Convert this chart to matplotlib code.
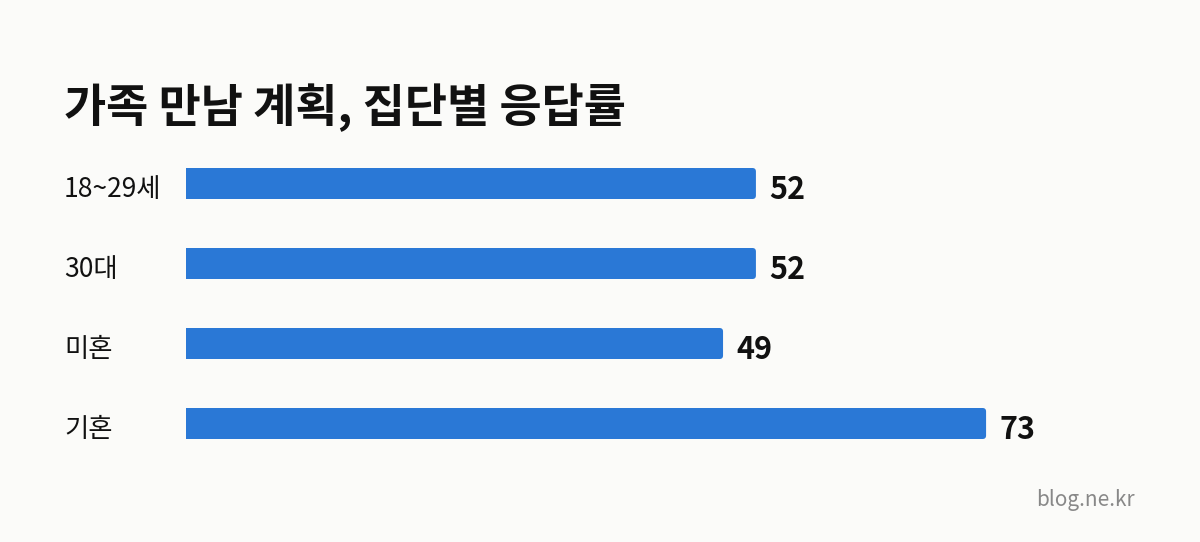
import matplotlib
matplotlib.use("Agg")
import matplotlib.pyplot as plt
from matplotlib.patches import FancyBboxPatch

plt.rcParams['font.family'] = ['Noto Sans CJK KR', 'DejaVu Sans']

title = "가족 만남 계획, 집단별 응답률"
categories = ["18~29세", "30대", "미혼", "기혼"]
values = [52, 52, 49, 73]
watermark = "blog.ne.kr"

W, H = 1200, 542
BG = "#fbfbf9"
BAR = "#2a78d6"

fig = plt.figure(figsize=(W / 100, H / 100), dpi=100, facecolor=BG)

px_per_unit = 10.96
left_px = 186
top_px, row_px = 143.5, 80
n = len(categories)
ax = fig.add_axes([left_px / W, 1 - (top_px + n * row_px) / H,
                   (W - left_px) / W, n * row_px / H])
ax.set_facecolor("none")
ax.set_xlim(0, (W - left_px) / px_per_unit)
ax.set_ylim(n - 0.5, -0.5)
ax.axis("off")

ys = list(range(n))
bar_h = 31 / row_px
r_px = 3.5
r_x = r_px / px_per_unit
bars = ax.barh(ys, [v - r_x for v in values], height=bar_h, color=BAR, edgecolor="none")
for rect, v in zip(bars, values):
    rb = FancyBboxPatch((rect.get_x(), rect.get_y()), v, rect.get_height(),
                        boxstyle=f"round,pad=0,rounding_size={r_x}",
                        mutation_aspect=px_per_unit / row_px,
                        facecolor=BAR, edgecolor="none")
    ax.add_patch(rb)

for y, v, c in zip(ys, values, categories):
    ax.annotate(str(v), (v, y), xytext=(13 * 0.72, -4.5), textcoords="offset points",
                ha="left", va="center", fontsize=22, fontweight="bold", color="#111111")
    ax.annotate(c, (0, y), xytext=(-(left_px - 64) * 0.72, -4.5), textcoords="offset points",
                ha="left", va="center", fontsize=19, color="#111111")

fig.text(64 / W, 1 - 122 / H, title, ha="left", va="baseline",
         fontsize=33, fontweight="bold", color="#111111")
fig.text(1135 / W, 1 - 500 / H, watermark, ha="right", va="center",
         fontsize=15, color="#888888")

fig.savefig("out.png", dpi=100, facecolor=BG)
